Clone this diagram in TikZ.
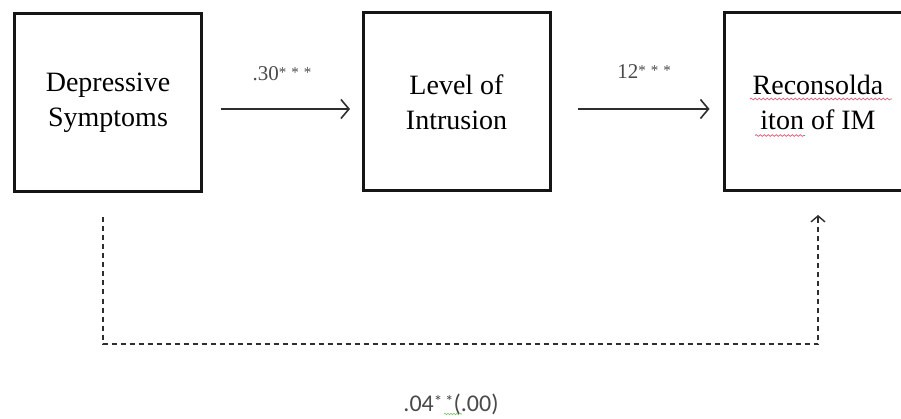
\documentclass[tikz,border=0pt]{standalone}
\usepackage{fontspec}
\setmainfont{Liberation Serif}
\newfontfamily\carlitofont{Carlito}
\usetikzlibrary{arrows.meta,decorations.pathmorphing}
\definecolor{boxline}{HTML}{151515}
\definecolor{labgray}{HTML}{4A4A4A}
\definecolor{arrgray}{HTML}{2E2E2E}
\definecolor{squigred}{HTML}{E0607A}
\definecolor{squiggreen}{HTML}{7CC070}
\newcommand{\stars}[1]{\raisebox{3pt}{\fontsize{15}{15}\selectfont #1}}
\tikzset{
  varbox/.style={draw=boxline, line width=3pt, minimum width=187pt, minimum height=178pt,
    inner sep=0pt, outer sep=0pt, align=center, font=\fontsize{28}{35}\selectfont},
  patharrow/.style={draw=arrgray, line width=1.6pt, -{Straight Barb[length=8pt,width=19pt,line width=1.6pt]}},
  dasharrow/.style={draw=arrgray, line width=1.4pt, dash pattern=on 5pt off 4pt,
    -{Straight Barb[length=6pt,width=14pt,line width=1.4pt]}},
  coef/.style={text=labgray, font=\fontsize{21}{24}\selectfont, inner sep=0pt},
  squig/.style={draw=squigred, line width=0.7pt, decorate,
    decoration={snake, segment length=4pt, amplitude=0.9pt}},
}
\begin{document}
\begin{tikzpicture}[x=1pt,y=1pt]
\useasboundingbox[fill=white] (0,0) rectangle (901,-419);
\node[varbox] (dep) at (108,-102.5) {Depressive\\Symptoms};
\node[varbox] (lev) at (456.5,-102) {Level of\\Intrusion};
\node[varbox] (rec) at (818,-102) {Reconsolda\\iton of IM};
% spelling squiggles
\draw[squig] (750,-99) -- (892,-99);
\draw[squig] (755,-135.5) -- (805,-135.5);
% direct paths
\draw[patharrow] ([xshift=19pt]dep.east |- 0,-109) -- ([xshift=-13pt]lev.west |- 0,-109);
\draw[patharrow] ([xshift=28pt]lev.east |- 0,-109) -- ([xshift=-15pt]rec.west |- 0,-109);
\node[coef] (c1) at (282,-74) {.30\stars{*\,\,*\,\,*}};
\node[coef] (c2) at (644,-72) {12\stars{*\,\,*\,\,*}};
% indirect dashed path
\coordinate (dl) at ([xshift=-5pt,yshift=-26pt]dep.south);
\coordinate (rl) at ([yshift=-24pt]rec.south);
\draw[dasharrow] (dl) -- (dl |- 0,-344) -- (rl |- 0,-344) -- (rl);
\node[text=labgray, font=\carlitofont\fontsize{24}{26}\selectfont, inner sep=0pt] (c3) at (451,-404)
  {.04\raisebox{4pt}{\fontsize{17}{17}\selectfont *\,*}(.00)};
\draw[draw=squiggreen, line width=0.6pt, decorate, decoration={snake, segment length=3pt, amplitude=0.8pt}]
  (444,-414) -- (462,-414);
\end{tikzpicture}
\end{document}
